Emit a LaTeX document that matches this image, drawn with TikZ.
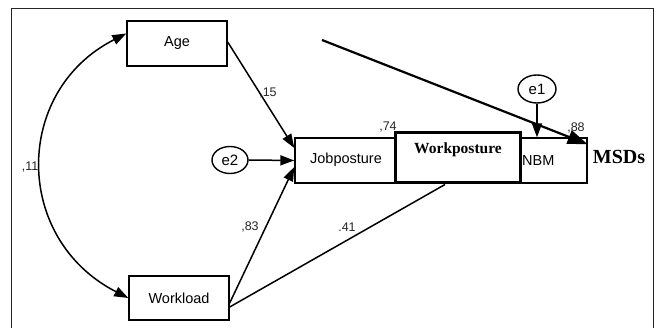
\documentclass[tikz,border=0pt]{standalone}
\usepackage{fontspec}
\setmainfont{Liberation Serif}
\setsansfont{Liberation Sans}
\usetikzlibrary{arrows.meta,shapes.geometric}
\begin{document}
\begin{tikzpicture}[x=1pt,y=-1pt,
  box/.style={draw,line width=1.4pt,fill=white,inner sep=0pt,font=\sffamily\fontsize{14.5}{16}\selectfont},
  err/.style={draw,line width=1.4pt,ellipse,inner sep=0pt,font=\sffamily\fontsize{15}{16}\selectfont},
  coef/.style={font=\sffamily\fontsize{12.5}{13}\selectfont,text=black!85},
  arr/.style={line width=1.5pt,-{Triangle[length=14pt,width=10pt]}},
  lin/.style={line width=1.5pt},
  sans/.style={font=\sffamily\fontsize{14.5}{16}\selectfont,inner sep=0pt},
  serifb/.style={font=\bfseries\fontsize{15.5}{17}\selectfont,inner sep=0pt}]
\useasboundingbox (0,0) rectangle (659,328);
\fill[white] (0,0) rectangle (659,328);
\draw[line width=1pt,black!85] (11,330) -- (11,9) -- (653,9) -- (653,330);
% nodes
\node[box,minimum width=100pt,minimum height=45pt] (age) at (177,43.5) {Age};
\node[box,minimum width=100pt,minimum height=44pt] (wl) at (179,298) {Workload};
\node[box,minimum width=105pt,minimum height=45pt] (jp) at (347.5,160.5) {};
\node[sans] (jpt) at (346,160) {Jobposture};
\node[box,minimum width=67pt,minimum height=45pt] (nbm) at (553.5,160.5) {};
\node[sans,anchor=west] (nbmt) at (522,160.5) {NBM};
\node[draw,line width=3pt,fill=white,minimum width=125pt,minimum height=50pt,inner sep=0pt] (wp) at (457.5,158) {};
\node[serifb] (wpt) at (458,150) {Workposture};
\node[font=\bfseries\fontsize{20}{22}\selectfont,inner sep=0pt] (msd) at (619,157) {MSDs};
\node[err,minimum width=38pt,minimum height=28pt] (e1) at (537,89) {e1};
\node[err,minimum width=36pt,minimum height=27pt] (e2) at (230,160) {e2};
\coordinate (ls) at (322,40);
% connectors
\draw[arr] ([yshift=1.5pt]age.east) -- ([yshift=12.5pt]jp.west);
\draw[arr] (e2.east) -- (jp.west);
\draw[arr] ([yshift=-5pt]wl.east) -- ([yshift=-6.5pt]jp.west);
\draw[lin] ([yshift=-9pt]wl.east) -- ([xshift=-12.5pt]wp.south);
\draw[arr] (e1.south) -- (e1.south |- nbm.north);
\draw[line width=2.2pt,-{Triangle[length=20pt,width=14pt]}] (ls) -- ([yshift=-7pt]nbm.north east);
\draw[lin,{Triangle[length=14pt,width=10pt]}-{Triangle[length=14pt,width=10pt]}]
  ([yshift=10pt]age.west) .. controls (13,91) and (13,239) .. (wl.west);
% labels
\node[coef] (c15) at (268,93) {,15};
\node[coef] (c83) at (250,227) {,83};
\node[coef] (c41) at (347,227) {.41};
\node[coef] (c11) at (30,167) {,11};
\node[coef] (c74) at (388,127) {,74};
\node[coef] (c88) at (576,128) {,88};
\end{tikzpicture}
\end{document}
